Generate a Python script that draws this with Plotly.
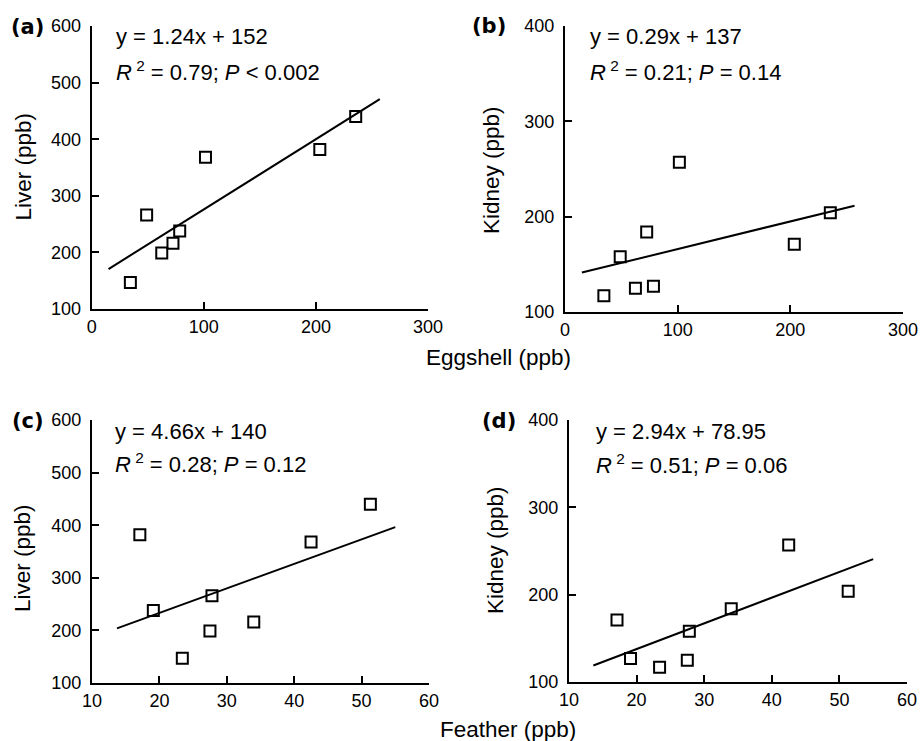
import plotly.graph_objects as go

# ---- data ----
eggshell = [34.5, 49, 62.5, 72.5, 78.5, 101.5, 203.5, 235.5]
feather = [23.4, 27.8, 27.5, 34.0, 19.1, 42.5, 17.1, 51.3]
liver = [147, 266, 199, 216, 238, 368, 382, 440]
kidney = [117, 158, 125, 184, 127, 257, 171, 204]

fit_slope = [1.24, 0.29, 4.66, 2.94]
fit_intercept = [152, 137, 140, 78.95]
fit_xmin = [15, 15, 13.7, 13.6]
fit_xmax = [257, 257, 55, 55]

eq_text = ["y = 1.24x + 152", "y = 0.29x + 137", "y = 4.66x + 140", "y = 2.94x + 78.95"]
stat_text = ["<i>R</i><sup> 2</sup> = 0.79; <i>P</i> &lt; 0.002",
             "<i>R</i><sup> 2</sup> = 0.21; <i>P</i> = 0.14",
             "<i>R</i><sup> 2</sup> = 0.28; <i>P</i> = 0.12",
             "<i>R</i><sup> 2</sup> = 0.51; <i>P</i> = 0.06"]
panel_labels = ["(a)", "(b)", "(c)", "(d)"]
y_titles = ["Liver (ppb)", "Kidney (ppb)", "Liver (ppb)", "Kidney (ppb)"]

egg_ticks = [0, 100, 200, 300]
feather_ticks = [10, 20, 30, 40, 50, 60]
liver_ticks = [100, 200, 300, 400, 500, 600]
kidney_ticks = [100, 200, 300, 400]

W, H = 921, 741
FONT = "Liberation Sans, Arial, sans-serif"


def px(x):
    return x / W


def py(y):
    return 1 - y / H


panels = [
    dict(xs=eggshell, ys=liver, xt=egg_ticks, yt=liver_ticks, xd=(91.7, 428), yd=(309, 26)),
    dict(xs=eggshell, ys=kidney, xt=egg_ticks, yt=kidney_ticks, xd=(565, 903), yd=(312, 26)),
    dict(xs=feather, ys=liver, xt=feather_ticks, yt=liver_ticks, xd=(92, 429), yd=(683, 420)),
    dict(xs=feather, ys=kidney, xt=feather_ticks, yt=kidney_ticks, xd=(569, 907), yd=(682, 420)),
]

fig = go.Figure()
layout = dict(template="none", width=W, height=H, autosize=False,
              margin=dict(l=0, r=0, t=0, b=0, pad=0),
              paper_bgcolor="white", plot_bgcolor="white", showlegend=False,
              font=dict(family=FONT, color="black", size=18))
annotations = []

for i, p in enumerate(panels):
    n = "" if i == 0 else str(i + 1)
    xa, ya = "x" + n, "y" + n
    fig.add_trace(go.Scatter(x=p["xs"], y=p["ys"], mode="markers", xaxis=xa, yaxis=ya,
                             marker=dict(symbol="square-open", size=11, color="black",
                                         line=dict(width=2, color="black")),
                             cliponaxis=False))
    fx = [fit_xmin[i], fit_xmax[i]]
    fy = [fit_slope[i] * v + fit_intercept[i] for v in fx]
    fig.add_trace(go.Scatter(x=fx, y=fy, mode="lines", xaxis=xa, yaxis=ya,
                             line=dict(color="black", width=2), cliponaxis=False))
    common = dict(showline=True, linecolor="black", linewidth=2, ticks="inside",
                  ticklen=7, tickwidth=2, tickcolor="black", showgrid=False,
                  zeroline=False, automargin=False,
                  tickfont=dict(size=18, family=FONT, color="black"))
    layout["xaxis" + n] = dict(common, domain=[px(p["xd"][0]), px(p["xd"][1])],
                               range=[p["xt"][0], p["xt"][-1]], tickvals=p["xt"],
                               anchor=ya, ticklabelstandoff=0)
    layout["yaxis" + n] = dict(common, domain=[py(p["yd"][0]), py(p["yd"][1])],
                               range=[p["yt"][0], p["yt"][-1]], tickvals=p["yt"],
                               anchor=xa, ticklabelstandoff=5)

# text positions (pixels)
eq_pos = [(114, 36), (588, 36), (113, 431), (594, 432)]
st_pos = [(114, 71), (588, 71), (113, 463), (594, 464)]
lab_pos = [(27.5, 27), (489, 26), (27.5, 421), (499, 421)]
ytit_pos = [(22.5, 167), (492, 170), (22, 558), (495, 550)]

for i in range(4):
    annotations.append(dict(x=px(eq_pos[i][0]), y=py(eq_pos[i][1]), xref="paper", yref="paper",
                            text=eq_text[i], showarrow=False, xanchor="left", yanchor="middle",
                            font=dict(size=22, family=FONT)))
    annotations.append(dict(x=px(st_pos[i][0]), y=py(st_pos[i][1]), xref="paper", yref="paper",
                            text=stat_text[i], showarrow=False, xanchor="left", yanchor="middle",
                            font=dict(size=22, family=FONT)))
    annotations.append(dict(x=px(lab_pos[i][0]), y=py(lab_pos[i][1]), xref="paper", yref="paper",
                            text="<b>" + panel_labels[i] + "</b>", showarrow=False,
                            xanchor="center", yanchor="middle",
                            font=dict(size=21, family="DejaVu Sans, sans-serif")))
    annotations.append(dict(x=px(ytit_pos[i][0]), y=py(ytit_pos[i][1]), xref="paper", yref="paper",
                            text=y_titles[i], showarrow=False, textangle=-90,
                            xanchor="center", yanchor="middle",
                            font=dict(size=22.5, family=FONT)))

annotations.append(dict(x=px(498), y=py(357), xref="paper", yref="paper", text="Eggshell (ppb)",
                        showarrow=False, xanchor="center", yanchor="middle",
                        font=dict(size=22.5, family=FONT)))
annotations.append(dict(x=px(508), y=py(729), xref="paper", yref="paper", text="Feather (ppb)",
                        showarrow=False, xanchor="center", yanchor="middle",
                        font=dict(size=22.5, family=FONT)))

layout["annotations"] = annotations
fig.update_layout(**layout)
fig.write_html("out.html", config={"displayModeBar": False},
               post_script="document.documentElement.style.margin='0';"
                           "document.body.style.margin='0';document.body.style.padding='0';"
                           "document.body.style.overflow='hidden';")
